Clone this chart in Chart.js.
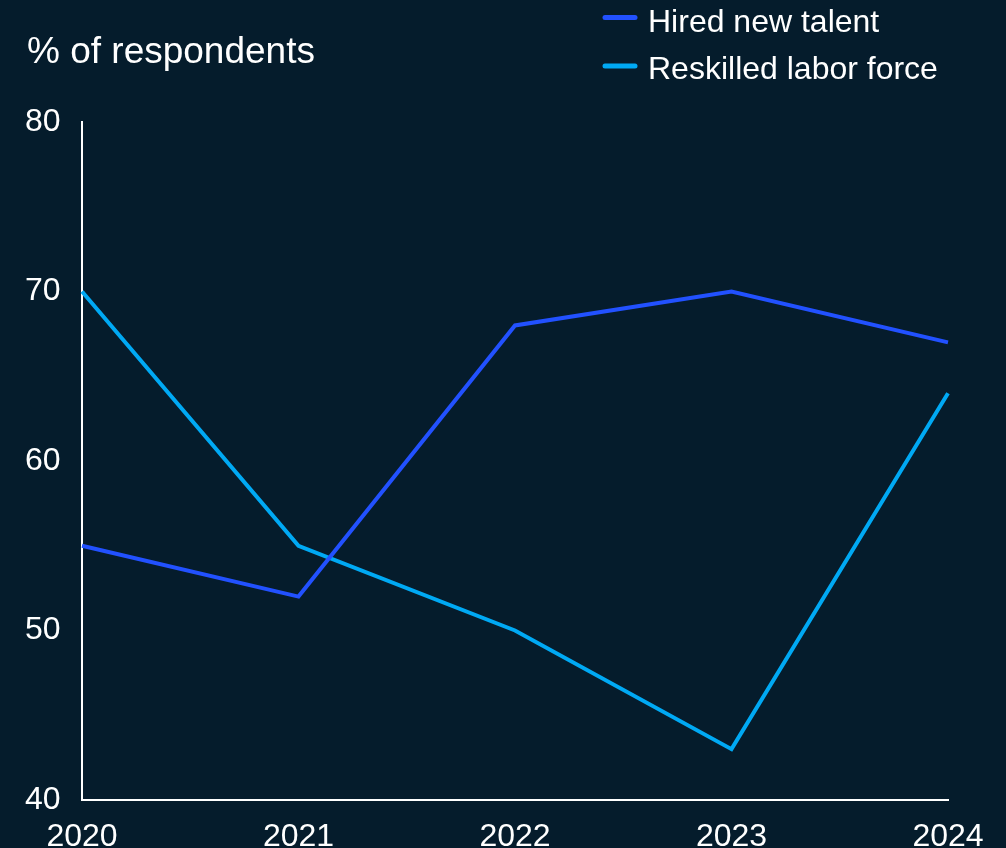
<!DOCTYPE html>
<html>
<head>
<meta charset="utf-8">
<script src="https://cdn.jsdelivr.net/npm/chart.js@4"></script>
<style>
  html, body { margin: 0; padding: 0; background: #051c2c; }
  #wrap { width: 1006px; height: 848px; }
</style>
</head>
<body>
<div id="wrap"><canvas id="chart" width="1006" height="848"></canvas></div>
<script>
const years = ['2020', '2021', '2022', '2023', '2024'];
const hiredNewTalent = [55, 52, 68, 70, 67];
const reskilledLaborForce = [70, 55, 50, 43, 64];
const yTicks = [40, 50, 60, 70, 80];

const BG = '#051c2c';
const FONT = '"Liberation Sans", Arial, sans-serif';

// background + title + stacked legend at top right
const decor = {
    id: 'decor',
    beforeDraw(chart) {
        const c = chart.ctx;
        c.save();
        c.fillStyle = BG;
        c.fillRect(0, 0, chart.width, chart.height);
        c.restore();
    },
    afterDraw(chart) {
        const c = chart.ctx;
        c.save();
        c.fillStyle = '#ffffff';
        c.textBaseline = 'alphabetic';
        c.textAlign = 'left';
        c.font = '37px ' + FONT;
        c.fillText('% of respondents', 27, 63);

        c.font = '32px ' + FONT;
        const rows = [{ line: 17.5, text: 31.5 }, { line: 66, text: 79 }];
        chart.data.datasets.forEach((ds, i) => {
            const r = rows[i];
            c.strokeStyle = ds.borderColor;
            c.lineWidth = 5;
            c.lineCap = 'round';
            c.beginPath();
            c.moveTo(605, r.line);
            c.lineTo(635, r.line);
            c.stroke();
            c.fillText(ds.label, 648, r.text);
        });
        c.restore();
    }
};

new Chart(document.getElementById('chart'), {
    type: 'line',
    data: {
        labels: years,
        datasets: [
            {
                label: 'Hired new talent',
                data: hiredNewTalent,
                borderColor: '#2251ff',
                borderWidth: 4,
                pointRadius: 0,
                tension: 0,
                borderJoinStyle: 'miter'
            },
            {
                label: 'Reskilled labor force',
                data: reskilledLaborForce,
                borderColor: '#00a9f4',
                borderWidth: 4,
                pointRadius: 0,
                tension: 0,
                borderJoinStyle: 'miter'
            }
        ]
    },
    options: {
        responsive: false,
        animation: false,
        layout: { padding: { top: 122, left: 25, right: 58, bottom: 0 } },
        plugins: {
            legend: { display: false },
            tooltip: { enabled: false }
        },
        scales: {
            x: {
                offset: false,
                grid: { display: false },
                border: { display: true, color: '#ffffff', width: 2 },
                ticks: {
                    color: '#ffffff',
                    font: { family: FONT, size: 32 },
                    padding: 10,
                    maxRotation: 0,
                    autoSkip: false
                },
                afterFit(scale) { scale.height = 48; }
            },
            y: {
                min: 40,
                max: 80,
                grid: { display: false },
                border: { display: true, color: '#ffffff', width: 2 },
                afterBuildTicks(scale) { scale.ticks = yTicks.map(v => ({ value: v })); },
                ticks: {
                    color: '#ffffff',
                    font: { family: FONT, size: 32 },
                    crossAlign: 'far'
                },
                afterFit(scale) { scale.width = 57; }
            }
        }
    },
    plugins: [decor]
});
</script>
</body>
</html>
